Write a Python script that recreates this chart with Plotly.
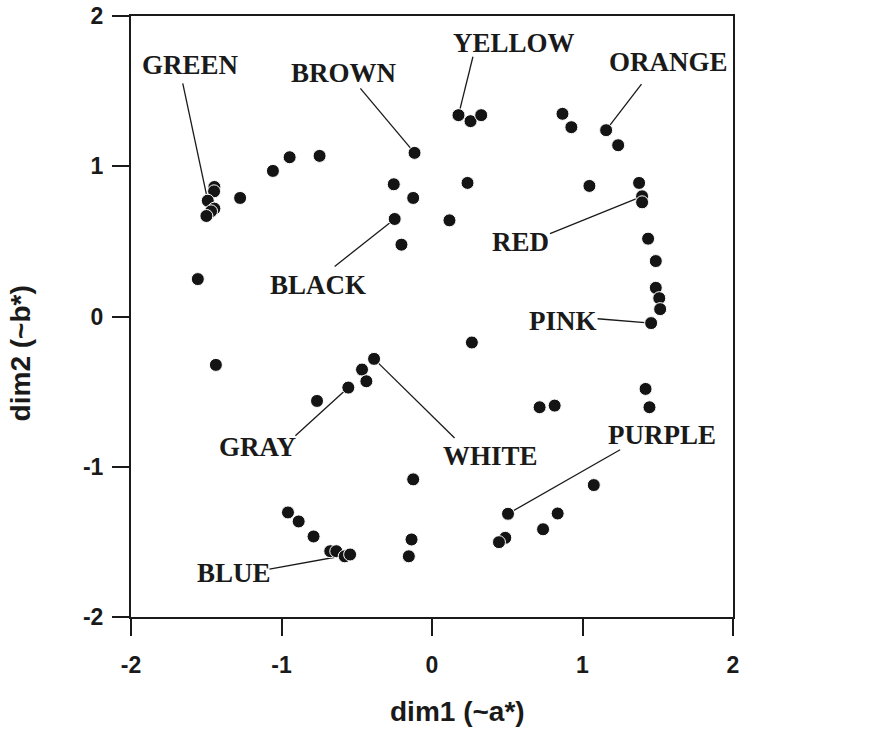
import plotly.graph_objects as go

# ---- data ----
dim1 = [-1.446, -1.448, -1.490, -1.446, -1.468, -1.499, -1.275, -1.057, -0.946, -0.747,
        -0.116, -0.254, -0.125, -0.248, -0.203, -1.556, 0.176, 0.256, 0.327, 0.867,
        0.926, 1.157, 1.237, 0.236, 1.046, 1.376, 1.396, 1.396, 0.116, 1.436,
        1.487, 1.487, 1.510, 1.516, 1.456, 0.265, 1.419, 1.445, 0.715, 0.815,
        1.075, 0.505, 0.835, 0.738, 0.487, 0.445, -1.436, -0.385, -0.465, -0.436,
        -0.556, -0.764, -0.125, -0.957, -0.886, -0.787, -0.676, -0.636, -0.580, -0.544,
        -0.136, -0.154]
dim2 = [0.862, 0.833, 0.771, 0.718, 0.700, 0.669, 0.789, 0.969, 1.060, 1.069,
        1.089, 0.880, 0.789, 0.649, 0.478, 0.249, 1.340, 1.300, 1.340, 1.349,
        1.260, 1.240, 1.140, 0.889, 0.869, 0.889, 0.800, 0.760, 0.640, 0.518,
        0.369, 0.191, 0.122, 0.049, -0.044, -0.173, -0.482, -0.604, -0.604, -0.593,
        -1.122, -1.313, -1.311, -1.416, -1.473, -1.502, -0.322, -0.282, -0.353, -0.431,
        -0.473, -0.562, -1.084, -1.304, -1.364, -1.464, -1.562, -1.562, -1.596, -1.584,
        -1.484, -1.596]

label_names = ["GREEN", "BROWN", "BLACK", "YELLOW", "ORANGE", "RED",
               "PINK", "PURPLE", "WHITE", "GRAY", "BLUE"]
label_target = [2, 10, 13, 16, 21, 26, 34, 41, 47, 50, 59]
label_x = [-1.607, -0.586, -0.755, 0.542, 1.574, 0.589, 0.869, 1.527, 0.389, -1.158, -1.314]
label_y = [1.673, 1.620, 0.213, 1.820, 1.693, 0.493, -0.027, -0.790, -0.927, -0.867, -1.707]
leader_x = [-1.656, -0.476, -0.647, 0.272, 1.392, 0.784, 1.100, 1.250, 0.150, -0.908, -1.080]
leader_y = [1.551, 1.518, 0.333, 1.729, 1.547, 0.551, -0.015, -0.887, -0.809, -0.793, -1.682]

x_ticks = [-2, -1, 0, 1, 2]
y_ticks = [-2, -1, 0, 1, 2]
x_title = "dim1 (~a*)"
y_title = "dim2 (~b*)"

ink = "#1a1a1a"

fig = go.Figure()
fig.add_trace(go.Scatter(
    x=dim1, y=dim2, mode="markers",
    marker=dict(size=13, color="#141414", line=dict(color="white", width=1)),
    hoverinfo="x+y", showlegend=False,
))

for i, name in enumerate(label_names):
    t = label_target[i]
    fig.add_shape(type="line", xref="x", yref="y",
                  x0=leader_x[i], y0=leader_y[i], x1=dim1[t], y1=dim2[t],
                  line=dict(color=ink, width=1.3), layer="below")
    fig.add_annotation(x=label_x[i], y=label_y[i], xref="x", yref="y",
                       text=name, showarrow=False, xanchor="center", yanchor="middle",
                       font=dict(family="Liberation Serif, Times New Roman, serif",
                                 size=27, color=ink, weight="bold"))

fig.add_annotation(x=0.543, y=-0.158, xref="paper", yref="paper", text=x_title,
                   showarrow=False, xanchor="center", yanchor="middle",
                   font=dict(family="Liberation Sans, Arial, sans-serif", size=28,
                             color=ink, weight="bold"))
fig.add_annotation(x=-0.184, y=0.439, xref="paper", yref="paper", text=y_title,
                   showarrow=False, xanchor="center", yanchor="middle", textangle=-90,
                   font=dict(family="Liberation Sans, Arial, sans-serif", size=28,
                             color=ink, weight="bold"))

axis_common = dict(
    range=[-2, 2], showgrid=False, zeroline=False, automargin=False,
    showline=True, linecolor=ink, linewidth=2, mirror=True,
    ticks="outside", ticklen=17, tickwidth=2, tickcolor=ink,
    tickfont=dict(family="Liberation Sans, Arial, sans-serif", size=23,
                  color=ink, weight="bold"),
)
fig.update_xaxes(tickvals=x_ticks, ticktext=[str(v) for v in x_ticks],
                 ticklabelstandoff=9, **axis_common)
fig.update_yaxes(tickvals=y_ticks, ticktext=[str(v) for v in y_ticks],
                 ticklabelstandoff=4, **axis_common)

fig.update_layout(
    width=871, height=729,
    margin=dict(l=131, r=138, t=16, b=112, autoexpand=False),
    paper_bgcolor="white", plot_bgcolor="white",
    showlegend=False,
)

fig.write_html("out.html")
